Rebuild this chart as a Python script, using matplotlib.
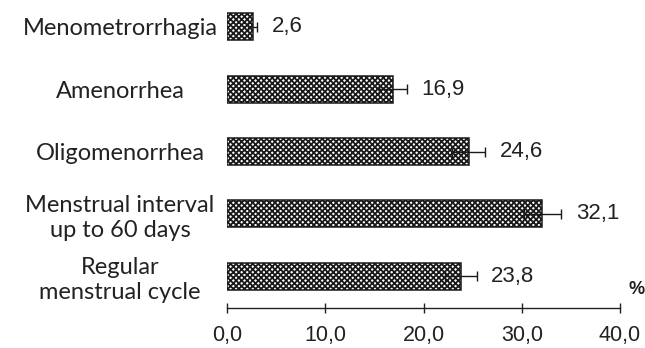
import numpy as np
import matplotlib
matplotlib.use("Agg")
import matplotlib.pyplot as plt

# Data
categories = ["Regular\nmenstrual cycle", "Menstrual interval\nup to 60 days",
              "Oligomenorrhea", "Amenorrhea", "Menometrorrhagia"]
values = [23.8, 32.1, 24.6, 16.9, 2.6]
errors = [1.6, 1.9, 1.7, 1.4, 0.5]
value_labels = ["23,8", "32,1", "24,6", "16,9", "2,6"]
xticks = [0, 10, 20, 30, 40]
xtick_labels = ["0,0", "10,0", "20,0", "30,0", "40,0"]

plt.rcParams['hatch.linewidth'] = 1.3
plt.rcParams['hatch.color'] = '#1a1a1a'

fig = plt.figure(figsize=(6.45, 3.48), dpi=100)
ax = fig.add_axes([227/645, 40/348, 393/645, 308/348])

y = np.arange(len(categories))
ax.barh(y, values, height=0.43, color='white', edgecolor='#1a1a1a',
        linewidth=1.1, hatch='xxxxxx')
ax.errorbar(values, y, xerr=errors, fmt='none', ecolor='#1a1a1a',
            elinewidth=1.0, capsize=3.5, capthick=1.0)

for yi, v, e, lab in zip(y, values, errors, value_labels):
    ax.text(v + e + 1.5, yi, lab, va='center', ha='left', fontsize=16,
            family='Liberation Sans', color='#222222')

ax.set_xlim(0, 40)
ax.set_ylim(-0.51, 4.43)
ax.set_xticks(xticks)
ax.set_xticklabels(xtick_labels, fontsize=15.5, family='Liberation Sans', color='#222222')
ax.set_yticks(y)
ax.set_yticklabels(categories, fontsize=17, family='Lato', color='#222222',
                   ha='center', multialignment='center', linespacing=1.25)
ax.tick_params(axis='y', length=0, pad=77)
ax.tick_params(axis='x', direction='inout', length=7, width=1.0, color='#222222', pad=9)

for s in ['top', 'right', 'left']:
    ax.spines[s].set_visible(False)
ax.spines['bottom'].set_linewidth(1.0)
ax.spines['bottom'].set_color('#222222')

fig.text(637/645, 1 - 290/348, "%", fontsize=13, fontweight='bold',
         family='Liberation Sans', ha='center', va='center', color='#222222')

fig.savefig("out.png", dpi=100)
